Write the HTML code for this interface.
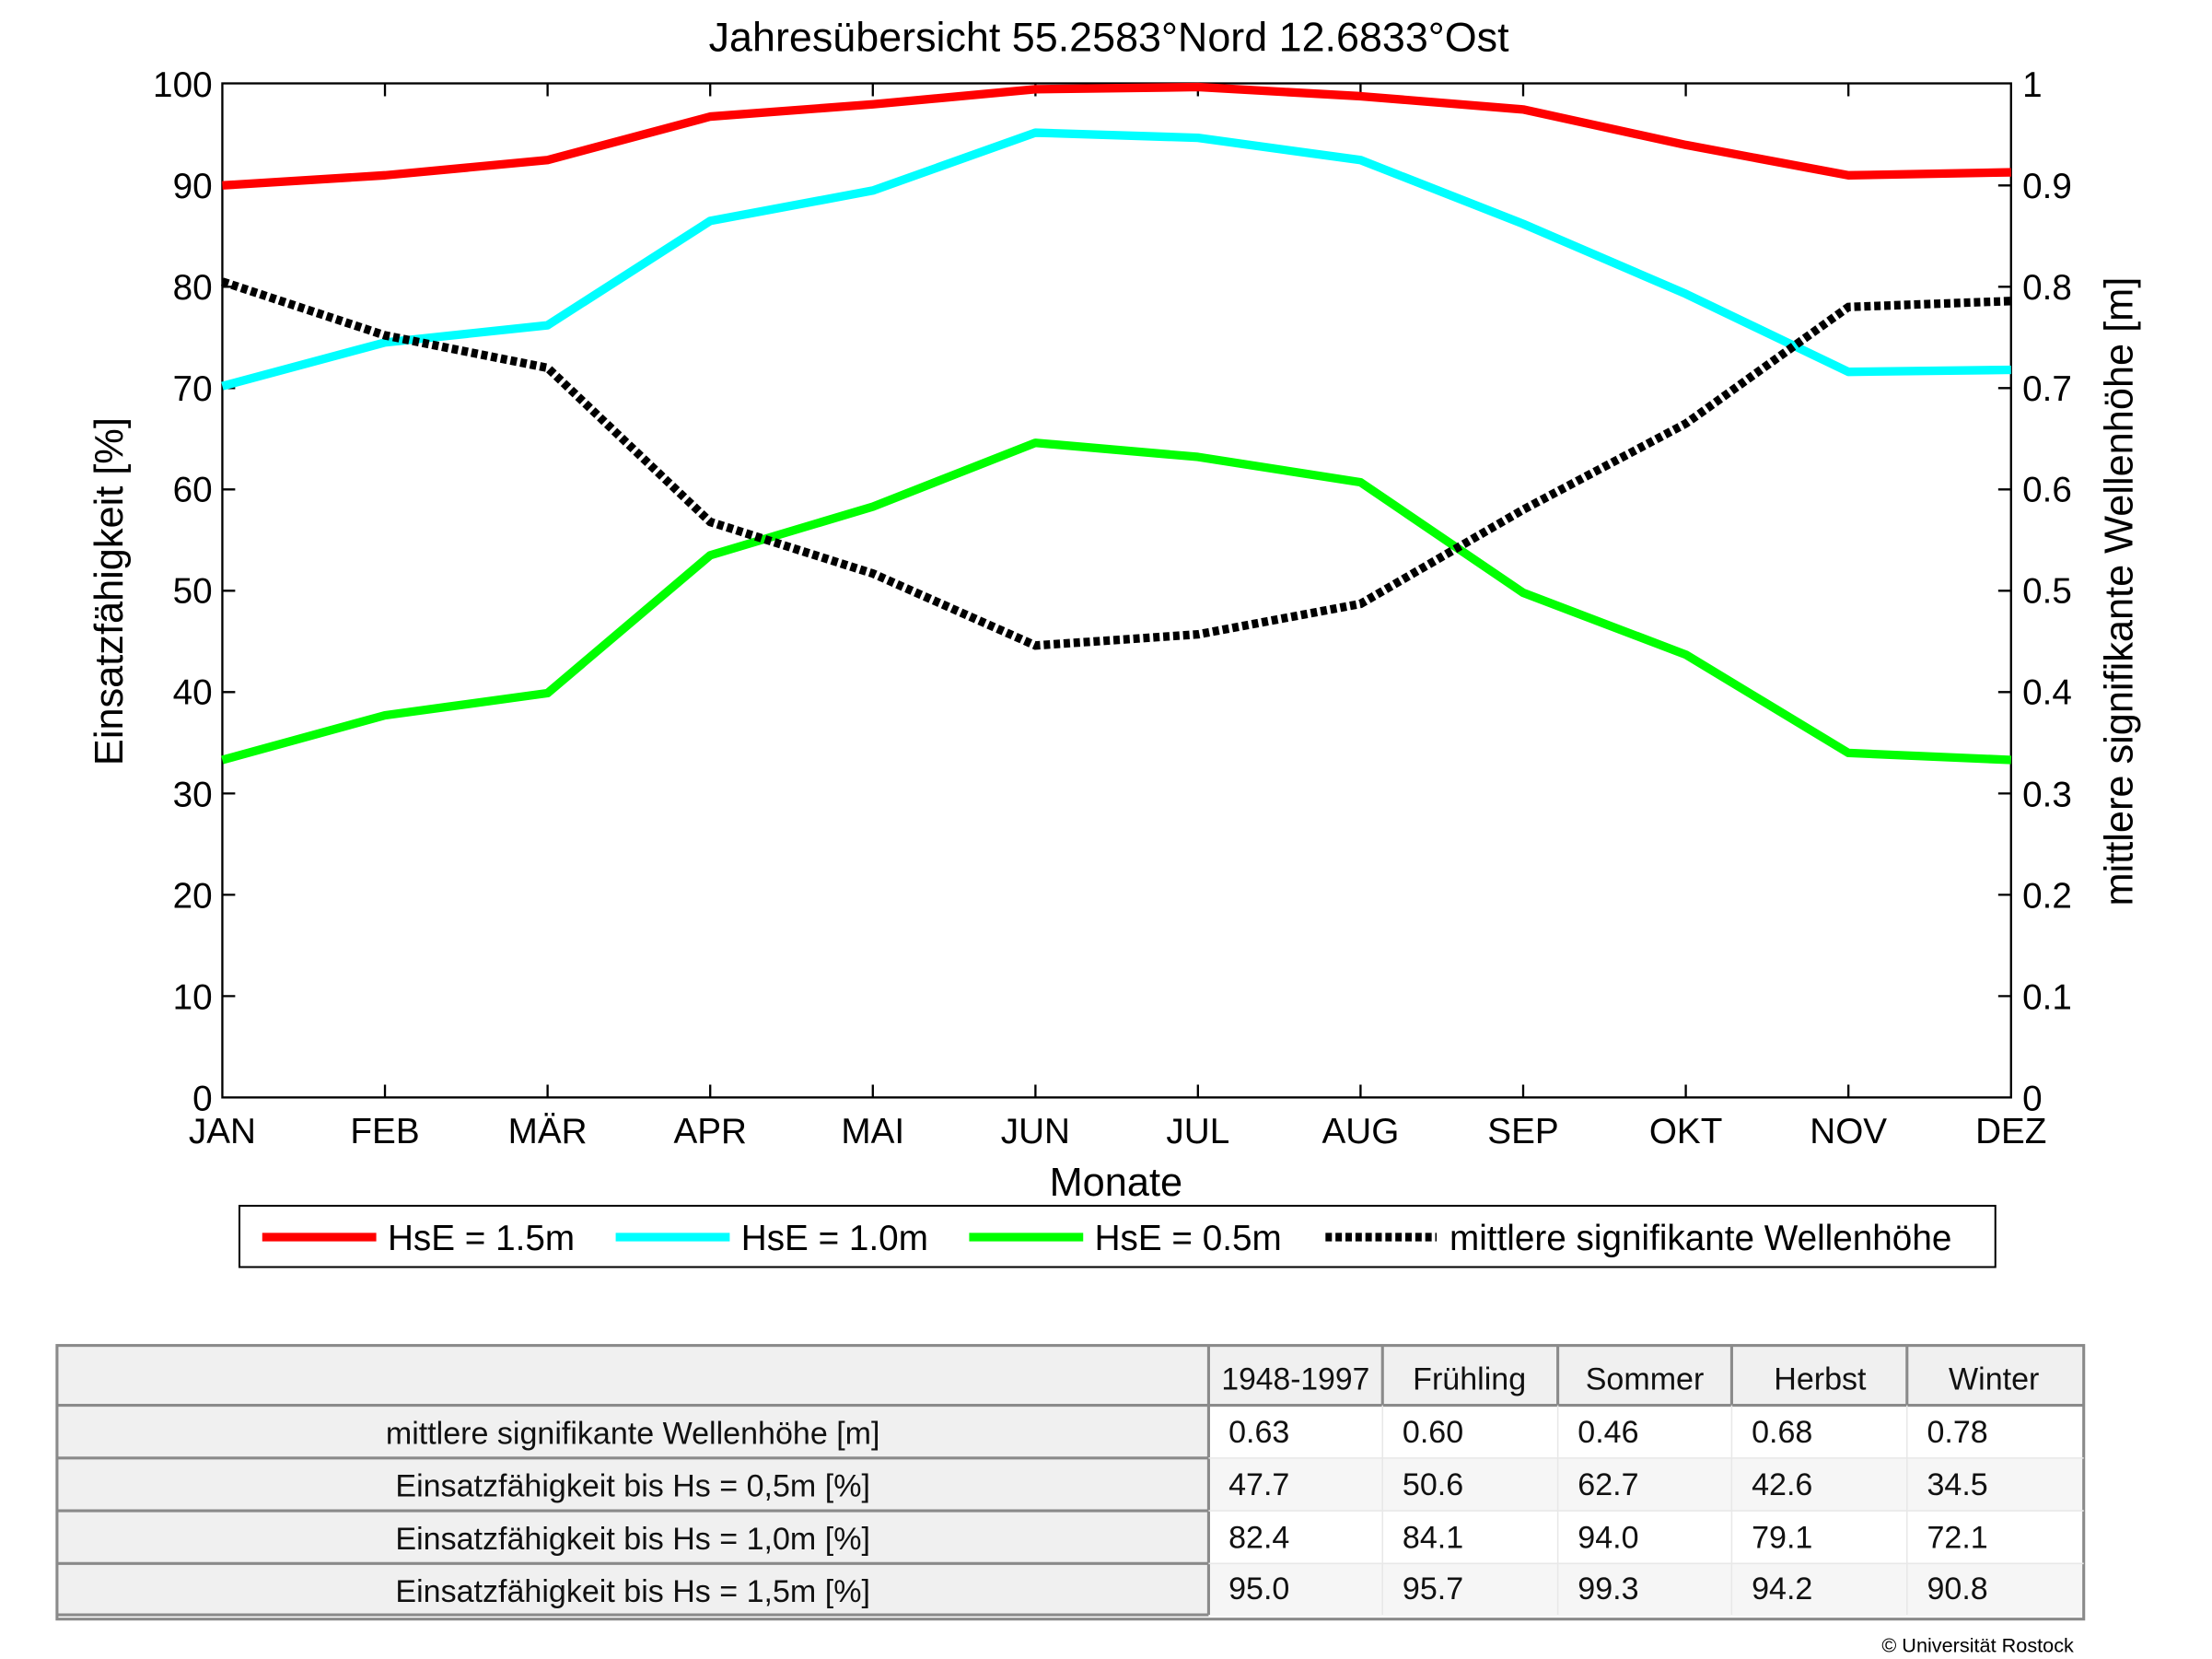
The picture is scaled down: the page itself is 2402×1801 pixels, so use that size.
<!DOCTYPE html>
<html><head><meta charset="utf-8"><style>html,body{margin:0;padding:0;background:#fff}svg{display:block}</style></head>
<body>
<svg width="2402" height="1801" viewBox="0 0 1552 1164" preserveAspectRatio="none" xmlns="http://www.w3.org/2000/svg" font-family="Liberation Sans, Arial, sans-serif">
<rect width="1552" height="1164" fill="#fff"/>
<text x="778" y="36" font-size="29" text-anchor="middle">Jahresübersicht  55.2583°Nord  12.6833°Ost</text>
<g stroke="#000" stroke-width="1.5" fill="none">
<rect x="156" y="58.5" width="1255" height="711.5"/>
<path d="M270.1 770v-9M384.2 770v-9M498.3 770v-9M612.4 770v-9M726.5 770v-9M840.5 770v-9M954.6 770v-9M1068.7 770v-9M1182.8 770v-9M1296.9 770v-9
M270.1 58.5v9M384.2 58.5v9M498.3 58.5v9M612.4 58.5v9M726.5 58.5v9M840.5 58.5v9M954.6 58.5v9M1068.7 58.5v9M1182.8 58.5v9M1296.9 58.5v9
M156 698.9h9M156 627.8h9M156 556.7h9M156 485.6h9M156 414.5h9M156 343.4h9M156 272.3h9M156 201.2h9M156 130.1h9
M1411 698.9h-9M1411 627.8h-9M1411 556.7h-9M1411 485.6h-9M1411 414.5h-9M1411 343.4h-9M1411 272.3h-9M1411 201.2h-9M1411 130.1h-9"/>
</g>
<g font-size="25" text-anchor="end">
<text x="149" y="779">0</text><text x="149" y="708">10</text><text x="149" y="637">20</text><text x="149" y="566">30</text><text x="149" y="494">40</text><text x="149" y="423">50</text><text x="149" y="352">60</text><text x="149" y="281">70</text><text x="149" y="210">80</text><text x="149" y="139">90</text><text x="149" y="68">100</text>
</g>
<g font-size="25">
<text x="1419" y="779">0</text><text x="1419" y="708">0.1</text><text x="1419" y="637">0.2</text><text x="1419" y="566">0.3</text><text x="1419" y="494">0.4</text><text x="1419" y="423">0.5</text><text x="1419" y="352">0.6</text><text x="1419" y="281">0.7</text><text x="1419" y="210">0.8</text><text x="1419" y="139">0.9</text><text x="1419" y="68">1</text>
</g>
<g font-size="25" text-anchor="middle">
<text x="156" y="802">JAN</text><text x="270.1" y="802">FEB</text><text x="384.2" y="802">MÄR</text><text x="498.3" y="802">APR</text><text x="612.4" y="802">MAI</text><text x="726.5" y="802">JUN</text><text x="840.5" y="802">JUL</text><text x="954.6" y="802">AUG</text><text x="1068.7" y="802">SEP</text><text x="1182.8" y="802">OKT</text><text x="1296.9" y="802">NOV</text><text x="1411" y="802">DEZ</text>
<text x="783" y="839" font-size="28">Monate</text>
<text transform="translate(86,415) rotate(-90)" font-size="28">Einsatzfähigkeit [%]</text>
<text transform="translate(1496,415) rotate(-90)" font-size="28">mittlere signifikante Wellenhöhe [m]</text>
</g>
<g fill="none" stroke-width="6" stroke-linejoin="round">
<polyline stroke="#ff0000" points="156,130.1 270.1,123 384.2,112.3 498.3,81.8 612.4,73.2 726.5,62.6 840.5,61.1 954.6,67.5 1068.7,76.8 1182.8,101.7 1296.9,123 1411,120.9"/>
<polyline stroke="#00ffff" points="156,270.9 270.1,240.3 384.2,228.2 498.3,155 612.4,133.7 726.5,93.1 840.5,96.7 954.6,112.3 1068.7,157.1 1182.8,206.2 1296.9,260.9 1411,259.5"/>
<polyline stroke="#00ff00" points="156,533.2 270.1,501.9 384.2,486.3 498.3,389.6 612.4,355.5 726.5,310.7 840.5,320.6 954.6,338.4 1068.7,415.9 1182.8,459.3 1296.9,528.3 1411,533.2"/>
<polyline stroke="#000" stroke-dasharray="4.5,2.5" stroke-linejoin="miter" points="156,197.6 270.1,235.3 384.2,258.1 498.3,366.2 612.4,402.4 726.5,452.9 840.5,445.1 954.6,423.7 1068.7,357.6 1182.8,297.2 1296.9,215.4 1411,211.2"/>
</g>
<rect x="168" y="846" width="1232" height="43" fill="#fff" stroke="#000" stroke-width="1.3"/>
<g stroke-width="6">
<line x1="184" y1="868" x2="264" y2="868" stroke="#ff0000"/>
<line x1="432" y1="868" x2="512" y2="868" stroke="#00ffff"/>
<line x1="680" y1="868" x2="760" y2="868" stroke="#00ff00"/>
<line x1="930" y1="868" x2="1008" y2="868" stroke="#000" stroke-dasharray="4.5,2.5"/>
</g>
<g font-size="25">
<text x="272" y="877">HsE = 1.5m</text><text x="520" y="877">HsE = 1.0m</text><text x="768" y="877">HsE = 0.5m</text><text x="1017" y="877">mittlere signifikante Wellenhöhe</text>
</g>
<!-- table -->
<rect x="40" y="944" width="1422" height="42" fill="#f0f0f0"/>
<rect x="40" y="986" width="808" height="148" fill="#f0f0f0"/>
<rect x="848" y="1023" width="614" height="37" fill="#f6f6f6"/>
<rect x="848" y="1097" width="614" height="37" fill="#f6f6f6"/>
<g stroke="#8a8a8a" stroke-width="2" fill="none">
<rect x="40" y="944" width="1422" height="192"/>
<path d="M40 986H1462M40 1023H848M40 1060H848M40 1097H848M40 1133H848M848 944V1133M970 944V986M1093 944V986M1215 944V986M1338 944V986"/>
</g>
<g stroke="#e8e8e8" stroke-width="1"><path d="M848 1023H1462M848 1060H1462M848 1097H1462M970 986V1133M1093 986V1133M1215 986V1133M1338 986V1133"/></g>
<g font-size="22" fill="#111">
<text x="909" y="975" text-anchor="middle" textLength="104" lengthAdjust="spacingAndGlyphs">1948-1997</text><text x="1031" y="975" text-anchor="middle">Frühling</text><text x="1154" y="975" text-anchor="middle">Sommer</text><text x="1277" y="975" text-anchor="middle">Herbst</text><text x="1399" y="975" text-anchor="middle">Winter</text>
<text x="444" y="1013" text-anchor="middle">mittlere signifikante Wellenhöhe [m]</text>
<text x="444" y="1050" text-anchor="middle">Einsatzfähigkeit bis Hs = 0,5m [%]</text>
<text x="444" y="1087" text-anchor="middle">Einsatzfähigkeit bis Hs = 1,0m [%]</text>
<text x="444" y="1124" text-anchor="middle">Einsatzfähigkeit bis Hs = 1,5m [%]</text>
<text x="862" y="1012">0.63</text><text x="984" y="1012">0.60</text><text x="1107" y="1012">0.46</text><text x="1229" y="1012">0.68</text><text x="1352" y="1012">0.78</text>
<text x="862" y="1049">47.7</text><text x="984" y="1049">50.6</text><text x="1107" y="1049">62.7</text><text x="1229" y="1049">42.6</text><text x="1352" y="1049">34.5</text>
<text x="862" y="1086">82.4</text><text x="984" y="1086">84.1</text><text x="1107" y="1086">94.0</text><text x="1229" y="1086">79.1</text><text x="1352" y="1086">72.1</text>
<text x="862" y="1122">95.0</text><text x="984" y="1122">95.7</text><text x="1107" y="1122">99.3</text><text x="1229" y="1122">94.2</text><text x="1352" y="1122">90.8</text>
</g>
<text x="1455" y="1159" font-size="14" text-anchor="end">© Universität Rostock</text>
</svg>
</body></html>
